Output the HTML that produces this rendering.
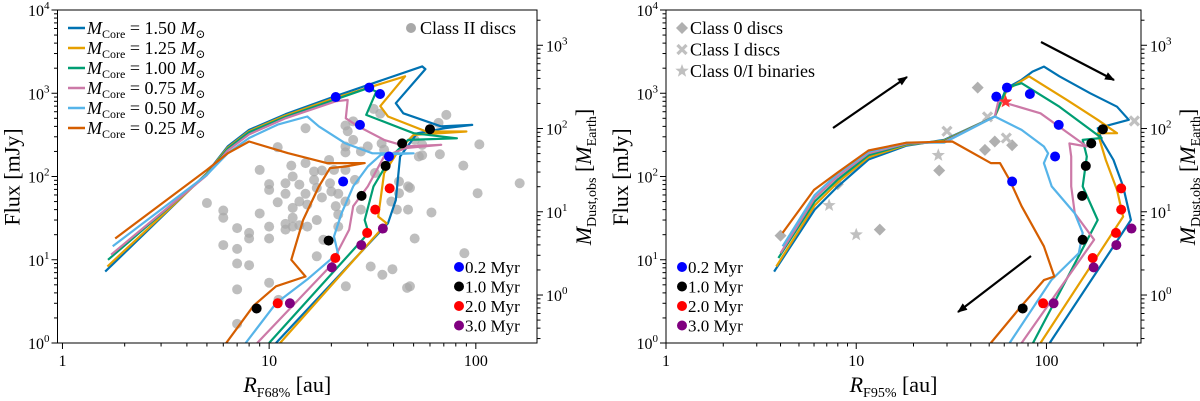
<!DOCTYPE html>
<html><head><meta charset="utf-8">
<style>
html,body{margin:0;padding:0;background:#fff;}
svg{display:block;font-family:"Liberation Serif","DejaVu Serif",serif;}
</style></head>
<body>
<svg id="fig" width="1200" height="401" viewBox="0 0 1200 401" xmlns="http://www.w3.org/2000/svg"></svg>
<script>
// ---------- DATA : left panel (R_F68%) ----------
const seriesLabels = ["1.50","1.25","1.00","0.75","0.50","0.25"];
const seriesColors = ["#0072B2","#E69F00","#009E73","#CC79A7","#56B4E9","#D55E00"];

const L_R_150 = [1.61,5.0,6.3,8.0,12,20.6,55,57,41,44.6,68,96,71,52,43,41,37.6,10.8];
const L_F_150 = [7.2,110,230,363,560,912,2100,1950,760,575,400,417,380,330,174,52,27.5,1];
const L_R_125 = [1.65,5.0,6.3,8.0,12,20.6,45.5,34.5,37.6,57.5,90,50,42.5,36,33.7,37,11.3];
const L_F_125 = [8.3,108,222,350,540,870,1600,700,525,347,347,316,209,110,33,27.5,1];
const L_R_100 = [1.66,5.0,6.3,8.0,12,20.6,30,33,29.5,50,81,47,39,32,29,30.3,10];
const L_F_100 = [10,106,215,340,520,832,1150,1050,550,331,288,275,174,76,30,21,1];
const L_R_075 = [1.72,5.0,6.3,8.0,12,21,24,23.5,27,36,46,68,46,36,30,25.5,24.4,19.7,8.75];
const L_F_075 = [11.5,104,205,320,500,800,832,500,400,275,230,240,220,174,76,44,23,8.3,1];
const L_R_050 = [1.75,5.0,6.3,8.0,11,15.3,17.4,23.4,31.6,50,34.7,30,25.5,22.4,20.6,21.5,15.3,10.8,7.7];
const L_F_050 = [14.5,105,190,290,420,525,400,250,190,190,182,132,76,36,19,12,5.8,3,1];
const L_R_025 = [1.8,5.0,6.3,8.0,12.3,19,29,23.4,19.7,17.4,14.6,12.8,15,10.8,8.4,6.2];
const L_F_025 = [18,120,190,263,191,145,145,132,126,76,30,10,6.3,4.8,2.8,1];

const L_dot02_R = [21,30.5,34.4,27.5,38,22.8];
const L_dot02_F = [900,1170,980,417,174,87];
const L_dot10_R = [60,44,36.6,28,19.4,8.7];
const L_dot10_F = [370,250,134,58.5,17,2.6];
const L_dot20_R = [38.3,32.6,29.8,20.9,11];
const L_dot20_F = [72,40,21,10.5,3];
const L_dot30_R = [35.5,27.9,20.1,12.6];
const L_dot30_F = [23.7,15,8.1,3];

const classII_R = [5,6,6,6,7,7,7,7,7,8,8,8,9,9,10,10,10,10,10,11,11,11.1,12,12,12,12,12.8,13,13,13,13,14,14,14,15,15,15,15.3,15.3,16.5,16.5,17,17,17,18,18,18.3,19.5,19.7,20,20.6,21.6,21,21.6,21.6,23.4,24,23.4,23.4,23.4,23.4,23.5,25.5,25.5,26,27.8,27.8,30,31,32,32.5,34.5,35,35.3,36,39,39.5,41.5,42.5,42.5,47,47,48,48,46.5,53,55,50.6,61,67,66,72,87,88,102,104,163,50.6,55];
const classII_F = [48,39,32,15,24,13.5,9,4.4,1.7,21,18,8.6,120,36,81,69,25,18,5.3,225,49,3.3,83,62,27,23,135,100,42,32,25,80,50,26,380,145,62,46,25,115,91,73,30,11,118,56,17.4,158,83,66,120,62,44,35,25,410,350,229,195,120,50,4.8,460,275,91,200,40,230,8.3,650,110,570,250,6.6,210,50,7.7,40,87,63,76,40,73,4.8,4.6,174,180,18,37,185,440,550,135,12,63,243,83,275,240];

// ---------- DATA : right panel (R_F95%) ----------
const R_R_150 = [3.7,6.05,8,11.6,18.4,29,53.5,61.5,74,84.5,97,117,170,235,271,215,186,195,225,253,278,104];
const R_F_150 = [7.2,40,76,160,235,275,525,1150,1450,1820,2090,1600,1000,690,480,417,380,275,158,76,30,1];
const R_R_125 = [3.8,6.05,8,11.6,18.4,29,53.5,62,81,128,186,235,186,205,235,253,93];
const R_F_125 = [8.3,45,85,170,240,270,525,1100,1600,832,480,331,330,158,69,33,1];
const R_R_100 = [3.9,6.05,8,11.6,18.4,29,53.5,62,74,117,195,155,163,155,186,85];
const R_F_100 = [10.5,50,92,180,245,265,525,1170,1320,690,290,275,174,76,30,1];
const R_R_075 = [4,6.05,8,11.6,18.4,29,53.5,56,61.5,93,163,132,135,135,141,178,74];
const R_F_075 = [12,55,100,190,250,260,525,830,760,575,229,250,174,76,36,17.4,1];
const R_R_050 = [4.1,6.05,8,11.6,18.4,29,53.5,74,97,102,97,106.5,141,155,148,106,64];
const R_F_050 = [14.5,60,108,198,255,255,525,363,229,190,145,76,36,21,12,5.7,1];
const R_R_025 = [4.1,6.0,8,11.6,18.4,32,51,57,64,74,97,110,97,74,51];
const R_F_025 = [21,69,112,205,255,263,145,145,91,44,14.5,6.3,5.7,2.8,1];

const R_dot02_R = [54.5,62,81.8,116,111,66];
const R_dot02_F = [910,1170,980,417,174,87];
const R_dot10_R = [198,172,161,154,155,75];
const R_dot10_F = [370,250,134,58.5,17.4,2.6];
const R_dot20_R = [247,247,232,175,96];
const R_dot20_F = [72,40,21,10.5,3];
const R_dot30_R = [280,233,177,109];
const R_dot30_F = [23.7,15,8.1,3];
const R_star_R = [61]; const R_star_F = [790];

const class0_R = [4,8,13.3,27.3,43.5,47.5,53.5,66];
const class0_F = [19.5,81,23,118,1170,209,263,237];
const classI_R = [30,49,61.5,290];
const classI_F = [350,520,290,465];
const bin_R = [10,27,7.2];
const bin_F = [20,180,45];

// ---------- drawing ----------
const NS="http://www.w3.org/2000/svg";
const svg=document.getElementById('fig');
function mk(tag,attrs,parent){const e=document.createElementNS(NS,tag);for(const k in attrs)e.setAttribute(k,attrs[k]);(parent||svg).appendChild(e);return e;}

function makeAxes(px0,px1,lx0,lx1,py0,py1){
  const xs=r=>px0+(Math.log10(r)-lx0)/(lx1-lx0)*(px1-px0);
  const ys=f=>py1-(Math.log10(f)-0)/4*(py1-py0);
  return {xs,ys};
}

function supLabel(g,x,y,base,exp,anchor,name){
  const t=mk('text',{x:x,y:y,'font-size':16,'text-anchor':anchor||'middle',fill:'#000'},g);
  
  
  const a=mk('tspan',{},t);a.textContent=base;
  const b=mk('tspan',{'font-size':11,dy:-7},t);b.textContent=exp;
  return t;
}

function panel(opt){
  const g=mk('g',{});
  
  
  const {xs,ys}=makeAxes(opt.x0,opt.x1,opt.lx0,opt.lx1,10,343);
  const clipId='clip'+opt.name;
  const cp=mk('clipPath',{id:clipId},g);
  mk('rect',{x:opt.x0,y:10,width:opt.x1-opt.x0,height:333},cp);
  const plot=mk('g',{'clip-path':'url(#'+clipId+')'},g);
  opt.grey(plot,xs,ys);
  opt.curves.forEach((c,i)=>{
    const d=c[0].map((r,j)=>(j?'L':'M')+xs(r).toFixed(1)+','+ys(c[1][j]).toFixed(1)).join(' ');
    const p=mk('path',{d:d,fill:'none',stroke:seriesColors[i],'stroke-width':2.2,'stroke-linejoin':'round'},plot);
    
    
  });
  const dotCols=['#0000ff','#000000','#ff0000','#800080'];
  const dotNames=['dot-0.2-myr','dot-1.0-myr','dot-2.0-myr','dot-3.0-myr'];
  opt.dots.forEach((dd,k)=>{
    dd[0].forEach((r,j)=>{
      const c=mk('circle',{cx:xs(r),cy:ys(dd[1][j]),r:5,fill:dotCols[k]},plot);
      
      
    });
  });
  if(opt.extra) opt.extra(plot,xs,ys);
  mk('rect',{x:opt.x0,y:10,width:opt.x1-opt.x0,height:333,fill:'none',stroke:'#000','stroke-width':1},g);
  for(let e=0;e<=3;e++){for(let m=1;m<10;m++){const v=m*Math.pow(10,e);const x=xs(v);if(x<opt.x0-0.5||x>opt.x1+0.5)continue;
    mk('line',{x1:x,x2:x,y1:343,y2:343+(m==1?6:3.5),stroke:'#000','stroke-width':1},g);
    if(m==1){const t=mk('text',{x:x,y:366,'font-size':16,'text-anchor':'middle'},g);t.textContent=String(v);
      
      }
  }}
  for(let e=0;e<=4;e++){for(let m=1;m<10;m++){const v=m*Math.pow(10,e);if(v>10000)break;const y=ys(v);
    mk('line',{x1:opt.x0,x2:opt.x0-(m==1?6:3.5),y1:y,y2:y,stroke:'#000','stroke-width':1},g);
    if(m==1) supLabel(g,opt.x0-8,y+6,'10',String(e),'end','y-tick-label');
  }}
  const k=3.77;
  for(let e=-1;e<=3;e++){for(let m=1;m<10;m++){const v=m*Math.pow(10,e);const y=ys(v*k);if(y<10||y>343)continue;
    mk('line',{x1:opt.x1,x2:opt.x1+(m==1?6:3.5),y1:y,y2:y,stroke:'#000','stroke-width':1},g);
    if(m==1) supLabel(g,opt.x1+9,y+6,'10',String(e),'start','right-tick-label');
  }}
  const yl=mk('text',{x:0,y:0,'font-size':22,'text-anchor':'middle',transform:'translate('+(opt.x0-38)+',177) rotate(-90)'},g);
  yl.textContent='Flux [mJy]';
  
  
  const xl=mk('text',{x:(opt.x0+opt.x1)/2-10,y:392,'font-size':22,'text-anchor':'middle'},g);
  
  
  let s=mk('tspan',{'font-style':'italic'},xl);s.textContent='R';
  s=mk('tspan',{'font-size':14,dy:5},xl);s.textContent=opt.sub;
  s=mk('tspan',{dy:-5},xl);s.textContent=' [au]';
  const rl=mk('text',{x:0,y:0,'font-size':22,'text-anchor':'middle',transform:'translate('+(opt.x1+54)+',177) rotate(-90)'},g);
  
  
  s=mk('tspan',{'font-style':'italic'},rl);s.textContent='M';
  s=mk('tspan',{'font-size':14,dy:5},rl);s.textContent='Dust,obs';
  s=mk('tspan',{dy:-5},rl);s.textContent=' [';
  s=mk('tspan',{'font-style':'italic'},rl);s.textContent='M';
  s=mk('tspan',{'font-size':14,dy:5},rl);s.textContent='Earth';
  s=mk('tspan',{dy:-5},rl);s.textContent=']';
  ['0.2 Myr','1.0 Myr','2.0 Myr','3.0 Myr'].forEach((lab,i)=>{
    const y=267+i*19.5;
    const c=mk('circle',{cx:opt.tlx,cy:y,r:5,fill:dotCols[i]},g);
    
    
    const t=mk('text',{x:opt.tlx+6,y:y+6,'font-size':17},g);t.textContent=lab;
    
    
  });
  return {g,xs,ys};
}

panel({name:'left-panel',x0:57.5,x1:537,lx0:-0.024,lx1:2.296,sub:'F68%',tlx:459,
  curves:[[L_R_150,L_F_150],[L_R_125,L_F_125],[L_R_100,L_F_100],[L_R_075,L_F_075],[L_R_050,L_F_050],[L_R_025,L_F_025]],
  dots:[[L_dot02_R,L_dot02_F],[L_dot10_R,L_dot10_F],[L_dot20_R,L_dot20_F],[L_dot30_R,L_dot30_F]],
  grey:(p,xs,ys)=>{classII_R.forEach((r,j)=>{const c=mk('circle',{cx:xs(r),cy:ys(classII_F[j]),r:5,fill:'#a8a8a8','fill-opacity':0.75},p);
    
    });}
});
(function(){
  const g=mk('g',{});
  
  
  seriesLabels.forEach((lab,i)=>{
    const y=28+i*20;
    mk('line',{x1:68,x2:85,y1:y,y2:y,stroke:seriesColors[i],'stroke-width':2.5},g);
    const t=mk('text',{x:87,y:y+6,'font-size':18},g);
    
    
    let s=mk('tspan',{'font-style':'italic'},t);s.textContent='M';
    s=mk('tspan',{'font-size':12,dy:4},t);s.textContent='Core';
    s=mk('tspan',{dy:-4},t);s.textContent=' = '+lab+'  ';
    s=mk('tspan',{'font-style':'italic'},t);s.textContent='M';
    s=mk('tspan',{'font-size':12,dy:4},t);s.textContent='\u2299';
  });
  const c=mk('circle',{cx:411,cy:28,r:5,fill:'#a8a8a8'},g);
  
  
  const t=mk('text',{x:420,y:34,'font-size':18},g);t.textContent='Class II discs';
  
  
})();

function diamond(p,x,y,s,col){return mk('path',{d:`M${x},${y-s}L${x+s},${y}L${x},${y+s}L${x-s},${y}Z`,fill:col},p);}
function cross(p,x,y,s,col){return mk('path',{d:`M${x-s},${y-s}L${x+s},${y+s}M${x+s},${y-s}L${x-s},${y+s}`,stroke:col,'stroke-width':3.2,fill:'none'},p);}
function star(p,x,y,s,col){let d='';for(let i=0;i<10;i++){const a=-Math.PI/2+i*Math.PI/5;const rr=i%2?s*0.42:s;d+=(i?'L':'M')+(x+rr*Math.cos(a)).toFixed(1)+','+(y+rr*Math.sin(a)).toFixed(1);}return mk('path',{d:d+'Z',fill:col},p);}
panel({name:'right-panel',x0:666,x1:1141,lx0:0,lx1:2.497,sub:'F95%',tlx:682,
  curves:[[R_R_150,R_F_150],[R_R_125,R_F_125],[R_R_100,R_F_100],[R_R_075,R_F_075],[R_R_050,R_F_050],[R_R_025,R_F_025]],
  dots:[[R_dot02_R,R_dot02_F],[R_dot10_R,R_dot10_F],[R_dot20_R,R_dot20_F],[R_dot30_R,R_dot30_F]],
  grey:(p,xs,ys)=>{
    class0_R.forEach((r,j)=>{const e=diamond(p,xs(r),ys(class0_F[j]),6,'#b0b0b0');
      
      });
    classI_R.forEach((r,j)=>{const e=cross(p,xs(r),ys(classI_F[j]),4.5,'#c0c0c0');
      
      });
    bin_R.forEach((r,j)=>{const e=star(p,xs(r),ys(bin_F[j]),7,'#c0c0c0');
      
      });
  },
  extra:(p,xs,ys)=>{R_star_R.forEach((r,j)=>{const e=star(p,xs(r),ys(R_star_F[j]),7,'#ff3030');
      
      });}
});
(function(){
  const defs=mk('defs',{});
  const m=mk('marker',{id:'ah',markerWidth:10,markerHeight:8,refX:9,refY:4,orient:'auto',markerUnits:'userSpaceOnUse'},defs);
  mk('path',{d:'M0,0L10,4L0,8Z',fill:'#000'},m);
  [[833,128,907,77],[1041,42,1114,80],[1031,256,958,312]].forEach(a=>{
    const l=mk('line',{x1:a[0],y1:a[1],x2:a[2],y2:a[3],stroke:'#000','stroke-width':2.2,'marker-end':'url(#ah)'});
    
    
  });
})();
(function(){
  const g=mk('g',{});
  
  
  const labs=['Class 0 discs','Class I discs','Class 0/I binaries'];
  labs.forEach((lab,i)=>{
    const y=28+i*21.5;
    let e;
    if(i==0)e=diamond(g,682,y,6,'#b0b0b0');else if(i==1)e=cross(g,682,y,4.5,'#c0c0c0');else e=star(g,682,y,7,'#c0c0c0');
    
    
    const t=mk('text',{x:690,y:y+6,'font-size':18},g);t.textContent=lab;
    
    
  });
})();
</script>
</body></html>
